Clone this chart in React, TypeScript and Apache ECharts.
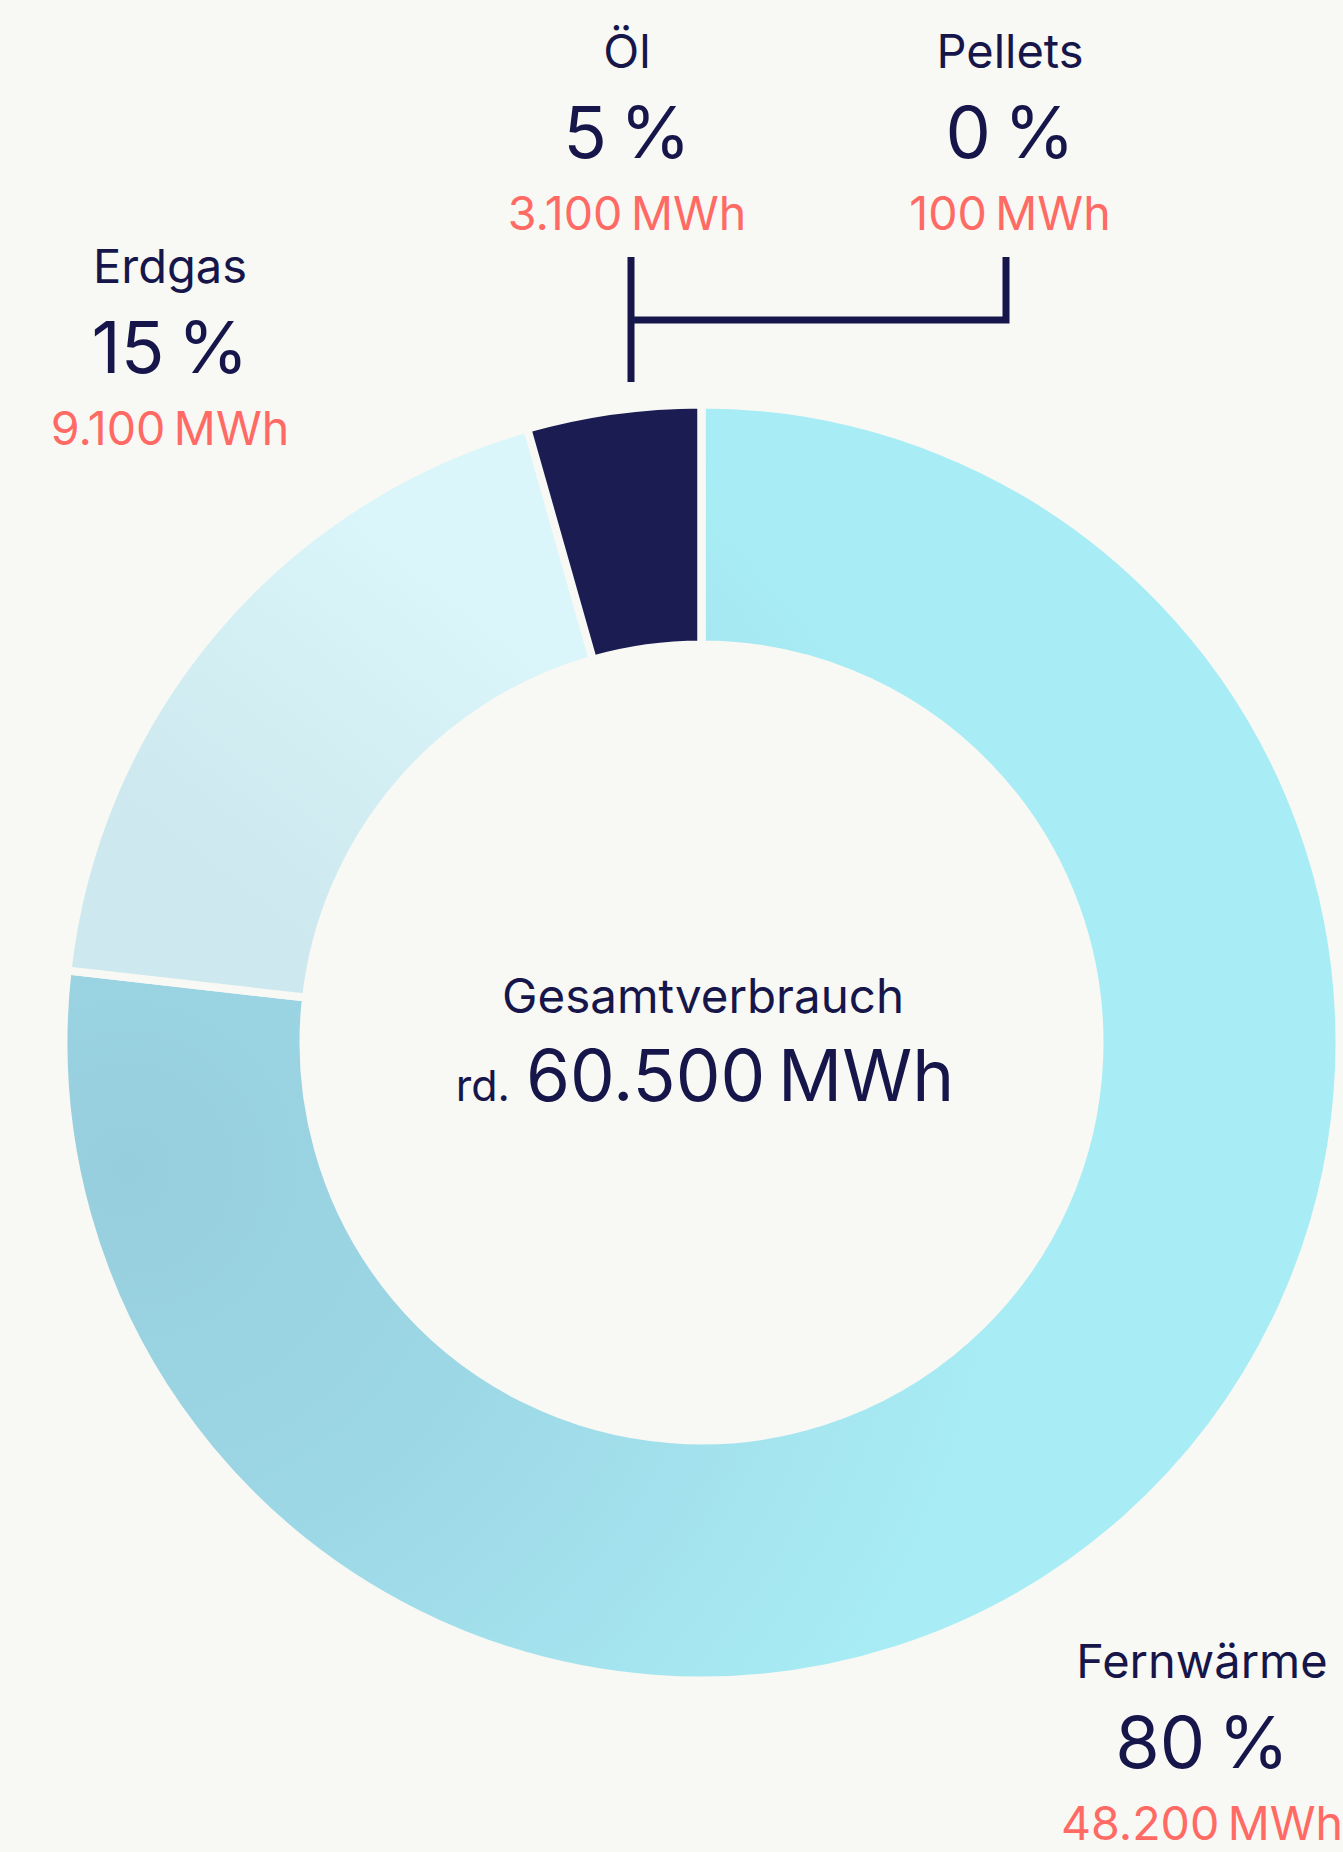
import React, { useEffect, useRef } from 'react';
import * as echarts from 'echarts';

// ---- data ----
const categories = ['Fernwärme', 'Erdgas', 'Öl', 'Pellets'];
// share of the ring as drawn in the picture (arc lengths)
const arcShares = [76.8, 18.8, 4.4, 0];
// labelled percentages and energy values
const percents = [80, 15, 5, 0];
const mwhValues = [48200, 9100, 3100, 100];
const totalMwh = 60500;
const centerTitle = 'Gesamtverbrauch';
const centerPrefix = 'rd.';
const unit = 'MWh';

// ---- style ----
const NAVY = '#16164A';
const CORAL = '#FF6A64';
const BG = '#F8F8F4';
const FONT = 'Inter, "Noto Sans", sans-serif';
const THIN = '\u2009';

const sliceColors: any[] = [
  {
    type: 'radial', x: 0.05, y: 0.6, r: 0.72,
    colorStops: [
      { offset: 0, color: '#97CEDE' },
      { offset: 0.45, color: '#9DD8E6' },
      { offset: 0.8, color: '#A5E6F0' },
      { offset: 1, color: '#A8EDF5' },
    ],
  },
  {
    type: 'linear', x: 0.05, y: 0.6, x2: 0.45, y2: 0.05,
    colorStops: [
      { offset: 0, color: '#CDE8EE' },
      { offset: 1, color: '#DAF6FA' },
    ],
  },
  '#1B1D52',
  '#1B1D52',
];

// label block anchors: [center x, baseline of name]
const labelAnchors: Record<string, [number, number]> = {
  'Fernwärme': [1202, 1678],
  'Erdgas': [170, 283],
  'Öl': [627, 68],
  'Pellets': [1010, 68],
};

const fmt = (n: number) => String(n).replace(/\B(?=(\d{3})+(?!\d))/g, '.');

function txt(text: string, x: number, baseline: number, size: number, color: string, align = 'center') {
  return {
    type: 'text',
    x,
    y: baseline - 0.363 * size,
    silent: true,
    style: {
      text,
      fill: color,
      font: `400 ${size}px ${FONT}`,
      textAlign: align,
      align,
      textVerticalAlign: 'middle',
      verticalAlign: 'middle',
    },
  };
}

export default function App() {
  const ref = useRef<HTMLDivElement>(null);

  useEffect(() => {
    if (!ref.current) return;
    const chart = echarts.init(ref.current, undefined, { renderer: 'svg' });

    const graphics: any[] = [];
    categories.forEach((c, i) => {
      const [cx, by] = labelAnchors[c];
      graphics.push(txt(c, cx, by, 47, NAVY));
      graphics.push(txt(`${percents[i]}${THIN}%`, cx, by + 90, 72, NAVY));
      graphics.push(txt(`${fmt(mwhValues[i])}${THIN}${unit}`, cx, by + 162, 46.5, CORAL));
    });
    // bracket joining Öl and Pellets labels
    graphics.push({
      type: 'polyline', silent: true,
      shape: { points: [[631, 257], [631, 382]] },
      style: { stroke: NAVY, lineWidth: 7, fill: null, lineCap: 'butt' },
    });
    graphics.push({
      type: 'polyline', silent: true,
      shape: { points: [[631, 320], [1006, 320], [1006, 257]] },
      style: { stroke: NAVY, lineWidth: 7, fill: null, lineCap: 'butt', lineJoin: 'miter' },
    });
    // center texts
    graphics.push(txt(centerTitle, 703, 1013, 47.5, NAVY));
    graphics.push(txt(centerPrefix, 510, 1101, 43, NAVY, 'right'));
    graphics.push(txt(`${fmt(totalMwh)}${THIN}${unit}`, 526, 1101, 71, NAVY, 'left'));

    chart.setOption({
      animation: false,
      backgroundColor: BG,
      series: [
        {
          type: 'pie',
          center: [701.5, 1042.5],
          radius: [398, 638],
          startAngle: 90,
          clockwise: true,
          silent: true,
          avoidLabelOverlap: false,
          label: { show: false },
          labelLine: { show: false },
          emphasis: { disabled: true },
          itemStyle: { borderColor: BG, borderWidth: 8 },
          data: categories.map((c, i) => ({
            name: c,
            value: arcShares[i],
            itemStyle: { color: sliceColors[i] },
          })),
        },
      ],
      graphic: { elements: graphics },
    });

    return () => chart.dispose();
  }, []);

  return (
    <div
      ref={ref}
      style={{ position: 'absolute', left: 0, top: 0, width: 1343, height: 1852, background: BG }}
    />
  );
}
